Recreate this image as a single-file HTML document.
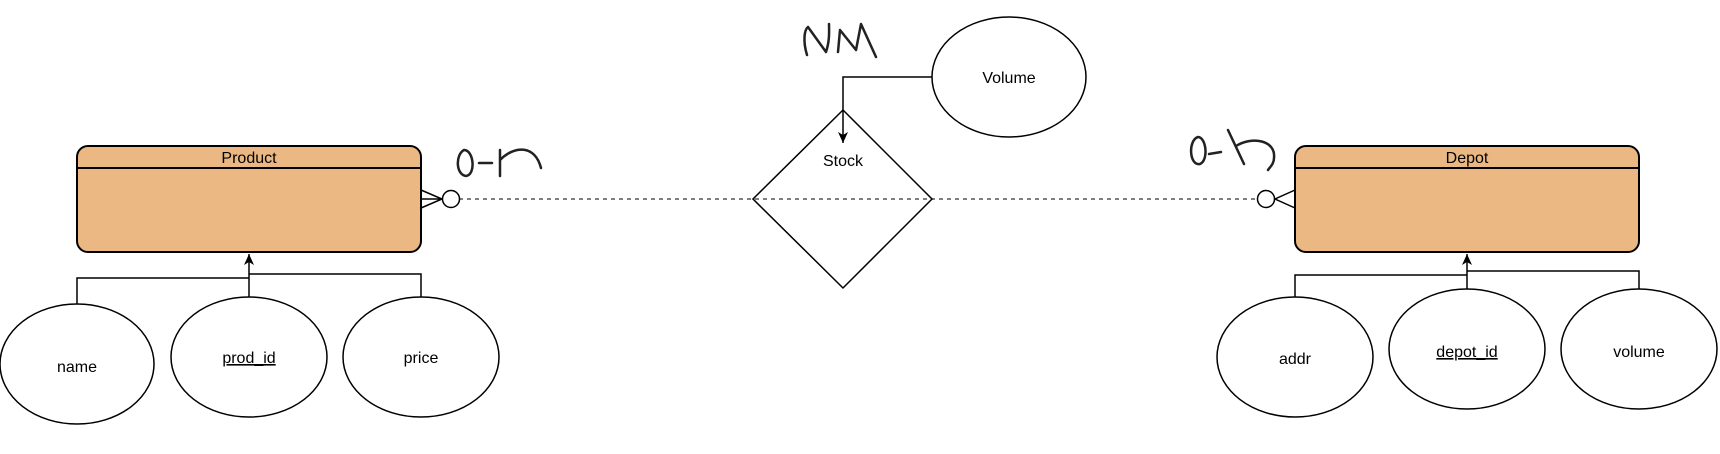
<!DOCTYPE html>
<html><head><style>body{margin:0;background:#fff}svg{display:block}</style></head>
<body>
<svg width="1720" height="454" viewBox="0 0 1720 454" xmlns="http://www.w3.org/2000/svg" font-family="Liberation Sans, sans-serif" font-size="16">
<defs><marker id="a" markerWidth="12" markerHeight="12" refX="11" refY="5" orient="auto" markerUnits="userSpaceOnUse"><path d="M0,0 L11,5 L0,10 L3,5 Z" fill="#000"/></marker></defs>
<g stroke="#000" fill="none" stroke-width="1.5">
<line x1="459" y1="199" x2="1258" y2="199" stroke="#555" stroke-dasharray="4,4"/>
<rect x="77" y="146" width="344" height="106" rx="11" fill="#ebb883" stroke-width="2"/>
<line x1="77" y1="168" x2="421" y2="168" stroke-width="2"/>
<rect x="1295" y="146" width="344" height="106" rx="11" fill="#ebb883" stroke-width="2"/>
<line x1="1295" y1="168" x2="1639" y2="168" stroke-width="2"/>
<path d="M421,190 L442,199 L421,208 M421,199 L442,199"/>
<circle cx="451" cy="199" r="8.5" fill="#fff"/>
<path d="M1295,190 L1275,199 L1295,208"/>
<circle cx="1266" cy="199" r="8.5" fill="#fff"/>
<polygon points="843,110 932,199 843,288 753,199"/>
<ellipse cx="1009" cy="77" rx="77" ry="60"/>
<path d="M932,77 L843,77 L843,143" marker-end="url(#a)"/>
<ellipse cx="77" cy="364" rx="77" ry="60"/>
<ellipse cx="249" cy="357" rx="78" ry="60"/>
<ellipse cx="421" cy="357" rx="78" ry="60"/>
<path d="M77,304 L77,278 L249,278"/>
<path d="M421,297 L421,274 L249,274"/>
<path d="M249,297 L249,254" marker-end="url(#a)"/>
<ellipse cx="1295" cy="357" rx="78" ry="60"/>
<ellipse cx="1467" cy="349" rx="78" ry="60"/>
<ellipse cx="1639" cy="349" rx="78" ry="60"/>
<path d="M1295,297 L1295,275 L1467,275"/>
<path d="M1639,289 L1639,271 L1467,271"/>
<path d="M1467,289 L1467,254" marker-end="url(#a)"/>
<g stroke-width="2.5" stroke-linecap="round" stroke-linejoin="round" stroke="#222">
<path d="M464,150 C455,155 456,175 466,176 C476,175 474,150 464,150 M479,163 L492,163 M500,176 L500,150 M500,160 C515,145 535,145 541,168"/>
<path d="M807,55 C803,42 804,30 808,27 L826,52 C830,40 829,30 829,24 M838,52 L840,30 L856,50 L861,24 L876,57"/>
<path d="M1198,137 C1188,140 1189,166 1200,164 C1209,160 1206,137 1198,137 M1209,154 L1221,152 M1228,130 L1244,164 M1236,146 C1252,136 1276,140 1274,158 C1274,164 1270,167 1268,170"/>
</g>
</g>
<g text-anchor="middle" fill="#000">
<text x="249" y="163">Product</text>
<text x="1467" y="163">Depot</text>
<text x="843" y="166">Stock</text>
<text x="1009" y="83">Volume</text>
<text x="77" y="372">name</text>
<text x="249" y="363" text-decoration="underline">prod_id</text>
<text x="421" y="363">price</text>
<text x="1295" y="364">addr</text>
<text x="1467" y="357" text-decoration="underline">depot_id</text>
<text x="1639" y="357">volume</text>
</g>
</svg>
</body></html>
